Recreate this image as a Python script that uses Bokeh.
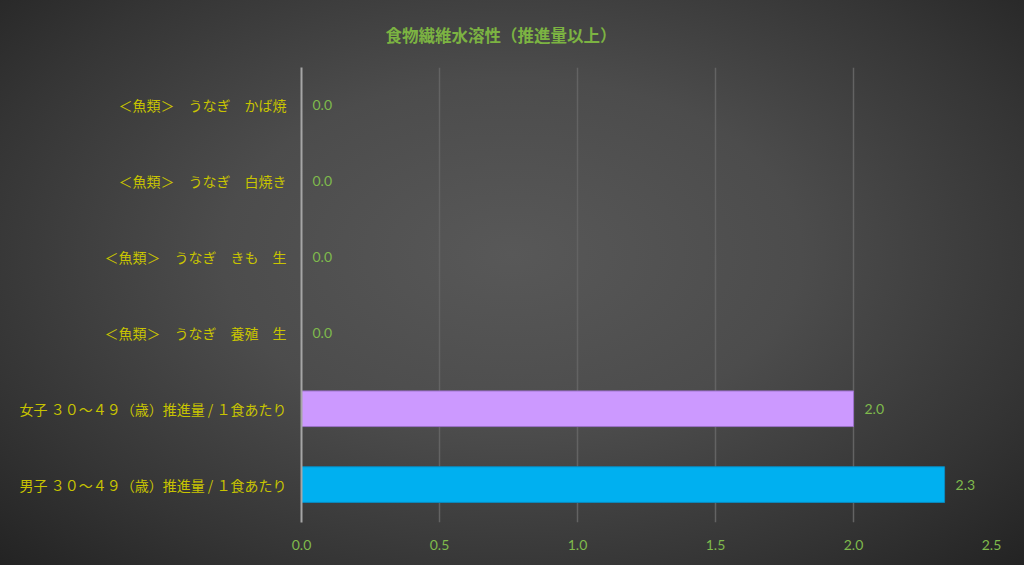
from bokeh.plotting import figure
from bokeh.models import (ColumnDataSource, LabelSet, FactorRange, Range1d, FixedTicker,
                          InlineStyleSheet, CustomJSTickFormatter)
from bokeh.core.properties import value
from bokeh.embed import file_html
from bokeh.resources import INLINE

title_text = "食物繊維水溶性（推進量以上）"
categories = [
    "男子 ３０～４９（歳）推進量 / １食あたり",
    "女子 ３０～４９（歳）推進量 / １食あたり",
    "＜魚類＞　うなぎ　養殖　生",
    "＜魚類＞　うなぎ　きも　生",
    "＜魚類＞　うなぎ　白焼き",
    "＜魚類＞　うなぎ　かば焼",
]
values = [2.33, 2.0, 0.0, 0.0, 0.0, 0.0]
bar_colors = ["#00B0F0", "#CC99FF", "#00B0F0", "#00B0F0", "#00B0F0", "#00B0F0"]
line_colors = ["#0A8AC0", "#9A70C8", "#0A8AC0", "#0A8AC0", "#0A8AC0", "#0A8AC0"]
x_ticks = [0.0, 0.5, 1.0, 1.5, 2.0, 2.5]

src = ColumnDataSource(dict(
    cat=categories, val=values, color=bar_colors, lcolor=line_colors,
    lbl=[f"{v:.1f}" for v in values],
))

css = InlineStyleSheet(css=""":host { background: radial-gradient(ellipse at 50% 45%, #585858 0%, #4c4c4c 40%, #353535 75%, #232323 100%); }""")

p = figure(
    width=1024, height=565, output_backend="svg", toolbar_location=None,
    y_range=FactorRange(*categories, range_padding=0),
    x_range=Range1d(0, 2.5),
    min_border_left=301, min_border_right=33, min_border_bottom=43, min_border_top=63,
)
p.stylesheets = [css]
p.background_fill_color = None
p.border_fill_color = None
p.outline_line_color = None

p.title.text = title_text
p.title.align = "left"
p.title.offset = 84
p.title.text_color = "#7CB342"
p.title.text_font = "Noto Sans CJK JP"
p.title.text_font_size = "16.5px"
p.title.text_font_style = "bold"
p.title.standoff = 41

p.hbar(y="cat", right="val", left=0, height=0.47, source=src,
       fill_color="color", line_color="lcolor", line_width=1)

labels = LabelSet(x="val", y="cat", text="lbl", source=src, x_offset=11,
                  text_baseline="middle", text_align="left",
                  text_color="#7FBA4C", text_font_size="14px",
                  text_font=value("Lato"))
p.add_layout(labels)

p.xaxis.ticker = FixedTicker(ticks=x_ticks)
p.xaxis.formatter = CustomJSTickFormatter(code="return tick.toFixed(1);")
p.xaxis.axis_line_color = None
p.xaxis.major_tick_line_color = None
p.xaxis.minor_tick_line_color = None
p.xaxis.major_label_text_color = "#7FBA4C"
p.xaxis.major_label_text_font = "Lato"
p.xaxis.major_label_text_font_size = "14px"
p.xaxis.major_label_standoff = 11

p.yaxis.axis_line_color = "#A6A6A6"
p.yaxis.axis_line_width = 2
p.yaxis.major_tick_line_color = None
p.yaxis.minor_tick_line_color = None
p.yaxis.major_label_text_color = "#C8C400"
p.yaxis.major_label_text_font = "Noto Sans CJK JP"
p.yaxis.major_label_text_font_size = "14px"
p.yaxis.major_label_standoff = 9

p.xgrid.grid_line_color = "#636363"
p.xgrid.grid_line_width = 1.5
p.ygrid.grid_line_color = None

html = file_html(p, INLINE)
open("out.html", "w").write(html)
